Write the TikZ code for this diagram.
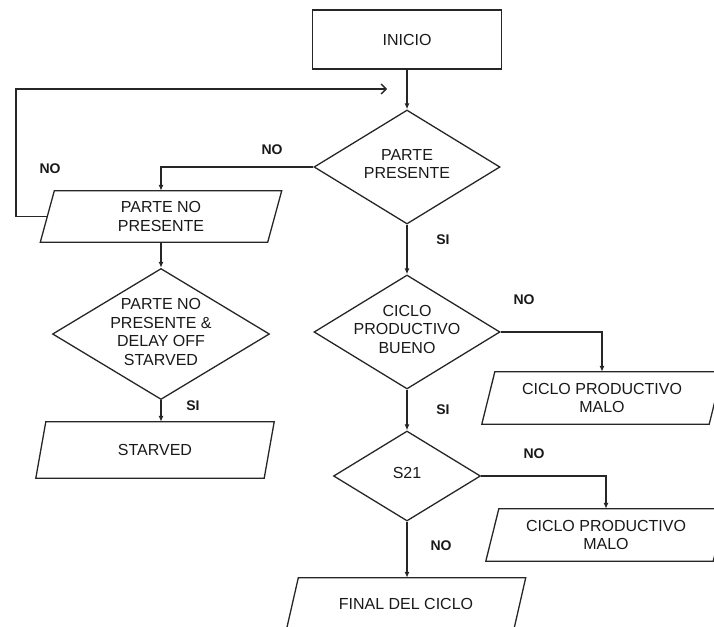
\documentclass[tikz,border=0pt]{standalone}
\usepackage{fontspec}
\setmainfont{Liberation Sans}
\usetikzlibrary{shapes.geometric,arrows.meta}
\begin{document}
\begin{tikzpicture}[x=1pt,y=-1pt,
  line/.style={draw=black!85, line width=1.3pt},
  arr/.style={line, -{Latex[length=6pt,width=5pt]}},
  txt/.style={font=\fontsize{16}{18.5}\selectfont, align=center, text=black!90},
  box/.style={txt, draw=black!85, line width=1.3pt, minimum width=189pt, minimum height=59pt, inner sep=0pt},
  para/.style={txt, minimum width=227pt, minimum height=52pt, inner sep=0pt},
  dia/.style={diamond, draw=black!85, line width=1.3pt, inner sep=0pt},
  lbl/.style={font=\fontsize{14}{16}\selectfont\bfseries, text=black!90}
]
\useasboundingbox (0,0) rectangle (714,626);
\clip (0,0) rectangle (714,626);

% main nodes
\node[box] (inicio) at (407,39.5) {INICIO};
\node[dia, minimum width=186pt, minimum height=114pt,
      label={[name=d1t, txt, yshift=3pt]center:PARTE\\PRESENTE}] (d1) at (407,167) {};
\node[dia, minimum width=186pt, minimum height=114pt,
      label={[name=d3t, txt, yshift=3pt]center:CICLO\\PRODUCTIVO\\BUENO}] (d3) at (407,332) {};
\node[dia, minimum width=147pt, minimum height=90pt,
      label={[name=s21t, txt, yshift=3pt]center:S21}] (s21) at (407,476) {};
\node[dia, minimum width=217pt, minimum height=131pt,
      label={[name=d2t, txt, yshift=2pt]center:PARTE NO\\PRESENTE \&\\DELAY OFF\\STARVED}] (d2) at (161,334) {};

\node[para, minimum height=51pt] (pnp) at (161,216.5) {PARTE NO\\PRESENTE};
\node[para, minimum width=228pt, minimum height=56pt] (starv) at (155,450) {STARVED};
\node[para] (malo1) at (602,398) {CICLO PRODUCTIVO\\MALO};
\node[para] (malo2) at (606,535) {CICLO PRODUCTIVO\\MALO};
\node[para] (final) at (406,604) {FINAL DEL CICLO};

% parallelogram outlines
\foreach \n/\o in {pnp/7, starv/5, malo1/6.5, malo2/6.5, final/6}
  \draw[line] ([xshift=\o pt]\n.north west) -- ([xshift=\o pt]\n.north east)
     -- ([xshift=-\o pt]\n.south east) -- ([xshift=-\o pt]\n.south west) -- cycle;

% connectors
\draw[arr] (inicio.south) -- (d1.north);
\draw[arr] (d1.west) -| (pnp.north);
\draw[arr] (d1.south) -- (d3.north);
\draw[arr] (pnp.south) -- (d2.north);
\draw[arr] (d2.south) -- (d2.south |- starv.north);
\draw[arr] (d3.east) -| (malo1.north);
\draw[arr] (d3.south) -- (s21.north);
\draw[arr] (s21.east) -| (malo2.north);
\draw[arr] (s21.south) -- (s21.south |- final.north);

% loop back
\coordinate (lp) at (16,216.5);
\coordinate (lpend) at (387,89);
\draw[line, -{Straight Barb[length=5pt,width=10pt]}] (pnp.west) -- (lp) |- (lpend);

% labels
\node[lbl] (n1) at (272,150) {NO};
\node[lbl] (n2) at (50,169) {NO};
\node[lbl] (s1) at (443,240) {SI};
\node[lbl] (s2) at (193,406) {SI};
\node[lbl] (n3) at (524,300) {NO};
\node[lbl] (s3) at (443,410) {SI};
\node[lbl] (n4) at (534,454) {NO};
\node[lbl] (n5) at (441,546) {NO};
\end{tikzpicture}
\end{document}
